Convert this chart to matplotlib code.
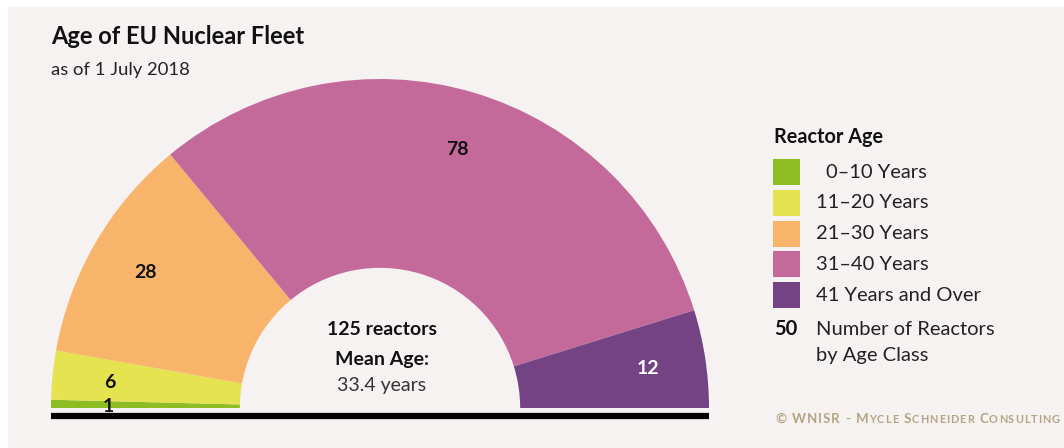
import numpy as np
import matplotlib
matplotlib.use('Agg')
import matplotlib.pyplot as plt
from matplotlib.patches import Wedge, Rectangle

# data
age_classes = ['0\u201310 Years', '11\u201320 Years', '21\u201330 Years', '31\u201340 Years', '41 Years and Over']
reactors = [1, 6, 28, 78, 12]
colors = ['#8dbd22', '#e5e350', '#f8b46a', '#c36a9b', '#744384']
label_colors = ['#111111', '#111111', '#111111', '#111111', '#ffffff']
mean_age = 33.4

plt.rcParams['font.family'] = ['Lato', 'DejaVu Sans']
bg = '#f6f2f1'

fig = plt.figure(figsize=(10.64, 4.48), dpi=100)
fig.patch.set_facecolor('white')
fig.patches.append(Rectangle((8 / 1064, 0), 1, 441 / 448, transform=fig.transFigure,
                             facecolor=bg, edgecolor='none', zorder=-5))

# axes mapped so that 1 data unit = 329 px, centre at (380, 408) px
ax = fig.add_axes([0, 0, 1, 1], zorder=1)
ax.set_xlim(-380 / 329, (1064 - 380) / 329)
ax.set_ylim(-40 / 329, 408 / 329)
ax.axis('off')
ax.patch.set_alpha(0)

R_out = 1.0
R_in = 0.426
total = sum(reactors)
start = 180.0
for n, c, lc in zip(reactors, colors, label_colors):
    span = n / total * 180.0
    end = start - span
    ax.add_patch(Wedge((0, 0), R_out, end, start, width=R_out - R_in,
                       facecolor=c, edgecolor='none'))
    mid = np.deg2rad((start + end) / 2)
    r = 0.825
    ax.text(r * np.cos(mid), r * np.sin(mid), str(n), ha='center', va='center_baseline',
            fontsize=14, fontweight='bold', color=lc)
    start = end

# base line
ax.plot([-R_out, R_out], [-0.024, -0.024], color='black', lw=4.5, solid_capstyle='butt')

# centre text
ax.text(0.006, (408 - 328) / 329, f'{total} reactors', ha='center', va='center_baseline',
        fontsize=14, fontweight='bold', color='#111111')
ax.text(0.006, (408 - 358) / 329, 'Mean Age:', ha='center', va='center_baseline',
        fontsize=14, fontweight='bold', color='#111111')
ax.text(0.006, (408 - 384) / 329, f'{mean_age} years', ha='center', va='center_baseline',
        fontsize=14, color='#333333')

# titles
fig.text(51 / 1064, 1 - 37 / 448, 'Age of EU Nuclear Fleet', fontsize=17,
         fontweight='bold', va='center', ha='left', color='#111111')
fig.text(51 / 1064, 1 - 70 / 448, 'as of 1 July 2018', fontsize=13.3,
         va='center', ha='left', color='#222222')

# legend
fig.text(774 / 1064, 1 - 137 / 448, 'Reactor Age', fontsize=14.3, fontweight='bold',
         va='center', ha='left', color='#111111')
y0 = 159
for i, (lab, c) in enumerate(zip(age_classes, colors)):
    top = y0 + i * 30.8
    fig.patches.append(Rectangle((773 / 1064, 1 - (top + 26) / 448), 27 / 1064, 26 / 448,
                                 transform=fig.transFigure, facecolor=c, edgecolor='none'))
    x = 826 if i == 0 else 816
    fig.text(x / 1064, 1 - (top + 13) / 448, lab, fontsize=14.5, va='center', ha='left',
             color='#222222')
fig.text(774 / 1064, 1 - 329 / 448, '50', fontsize=14.5, fontweight='bold',
         va='center', ha='left', color='#111111')
fig.text(816 / 1064, 1 - 329 / 448, 'Number of Reactors', fontsize=14.5,
         va='center', ha='left', color='#222222')
fig.text(816 / 1064, 1 - 356 / 448, 'by Age Class', fontsize=14.5,
         va='center', ha='left', color='#222222')

# credit in small caps: place each character after the previous one
credit = '\u00a9 WNISR - Mycle Schneider Consulting'
renderer = fig.canvas.get_renderer()
x_px = 775.0
for ch in credit:
    size = 7.8 if ch.islower() else 9.6
    t = fig.text(x_px / 1064, 1 - 423 / 448, ch.upper(), fontsize=size, color='#b3a584',
                 fontweight='bold', va='baseline', ha='left')
    if ch == ' ':
        x_px += size * 0.45
    else:
        x_px += t.get_window_extent(renderer).width + 1.0

fig.savefig('out.png', dpi=100, facecolor=fig.get_facecolor())
